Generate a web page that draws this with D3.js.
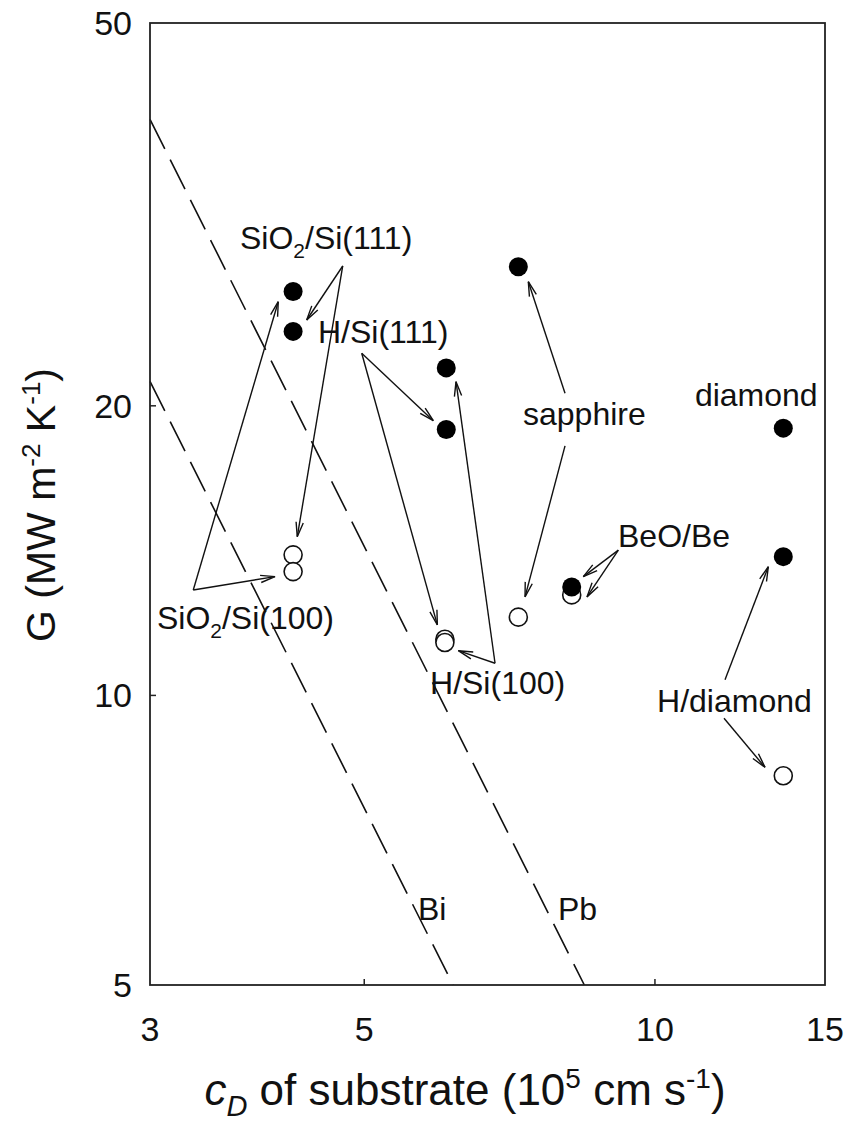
<!DOCTYPE html>
<html><head><meta charset="utf-8">
<script src="https://cdn.jsdelivr.net/npm/d3@7"></script>
<style>
html,body{margin:0;padding:0;background:#fff;}
text{font-family:"Liberation Sans",Arial,Helvetica,sans-serif;fill:#111;}
</style></head>
<body>
<svg id="chart" width="847" height="1125"></svg>
<script>
// ---------- data ----------
const xTicks = [3, 5, 10, 15];
const yTicks = [5, 10, 20, 50];
const xMinorTicks = [5, 10];
const yMinorTicks = [10, 20];

// filled circles (c_D, G)
const filledC = [4.22, 4.22, 6.08, 6.08, 7.22, 8.20, 13.58, 13.58];
const filledG = [26.3, 23.9, 21.9, 18.9, 27.9, 12.96, 18.96, 13.94];
// open circles (c_D, G)
const openC = [4.22, 4.22, 6.06, 6.06, 7.22, 8.20, 13.58];
const openG = [14.0, 13.45, 11.44, 11.35, 12.06, 12.72, 8.25];

// dashed reference lines
const biC = [3, 6.18], biG = [21.2, 5];
const pbC = [3, 8.45], pbG = [39.7, 5];

// annotation labels (start / baseline in data coords)
const labelText = ["SiO2/Si(111)", "SiO2/Si(100)", "H/Si(111)", "H/Si(100)", "sapphire", "diamond", "BeO/Be", "H/diamond", "Bi", "Pb"];
const labelC = [3.718, 3.050, 4.478, 5.849, 7.301, 11.00, 9.157, 10.05, 5.684, 7.936];
const labelG = [29.11, 11.72, 23.25, 10.03, 19.10, 19.99, 14.26, 9.61, 5.84, 5.84];

// annotation arrows (from -> to, data coords)
const arrowFromC = [4.750, 4.750, 3.326, 3.326, 4.970, 4.970, 6.830, 6.830, 8.070, 8.070, 9.164, 9.164, 11.818, 11.790];
const arrowFromG = [27.95, 27.95, 12.87, 12.87, 22.68, 22.68, 10.80, 10.80, 20.61, 18.17, 14.16, 14.16, 10.38, 9.467];
const arrowToC   = [4.359, 4.262, 4.073, 4.042, 5.895, 5.952, 6.257, 6.223, 7.394, 7.336, 8.430, 8.504, 13.104, 13.001];
const arrowToG   = [24.56, 14.62, 25.66, 13.29, 19.30, 11.84, 11.13, 21.19, 26.92, 12.66, 13.29, 12.66, 13.61, 8.419];

// ---------- layout ----------
const L = 150, R = 825, T = 23, B = 985;
const svg = d3.select("#chart");
const x = d3.scaleLog().domain([3, 15]).range([L, R]);
const y = d3.scaleLog().domain([5, 50]).range([B, T]);

const fs = 32;   // annotation labels
const tickFs = 34;

// dashed lines
const line = d3.line().x(d => x(d[0])).y(d => y(d[1]));
[[biC, biG], [pbC, pbG]].forEach(([cs, gs]) => {
  svg.append("path")
    .attr("d", line(cs.map((c, i) => [c, gs[i]])))
    .attr("fill", "none").attr("stroke", "#111").attr("stroke-width", 1.6)
    .attr("stroke-dasharray", "33,12");
});

// arrows
const ag = svg.append("g").attr("stroke", "#111").attr("stroke-width", 1.4).attr("fill", "none");
arrowFromC.forEach((c, i) => {
  const x1 = x(c), y1 = y(arrowFromG[i]), x2 = x(arrowToC[i]), y2 = y(arrowToG[i]);
  ag.append("line").attr("x1", x1).attr("y1", y1).attr("x2", x2).attr("y2", y2);
  const a = Math.atan2(y2 - y1, x2 - x1), len = 15, h = 14 * Math.PI / 180;
  const p1 = [x2 - len * Math.cos(a - h), y2 - len * Math.sin(a - h)];
  const p2 = [x2 - len * Math.cos(a + h), y2 - len * Math.sin(a + h)];
  ag.append("path").attr("d", `M${p1[0]},${p1[1]}L${x2},${y2}L${p2[0]},${p2[1]}`);
});

// points: open first, filled on top
svg.append("g").selectAll("circle").data(openC).join("circle")
  .attr("cx", d => x(d)).attr("cy", (d, i) => y(openG[i])).attr("r", 9)
  .attr("fill", "#fff").attr("stroke", "#111").attr("stroke-width", 1.6);
svg.append("g").selectAll("circle").data(filledC).join("circle")
  .attr("cx", d => x(d)).attr("cy", (d, i) => y(filledG[i])).attr("r", 9.5)
  .attr("fill", "#000");

// frame
svg.append("rect").attr("x", L).attr("y", T).attr("width", R - L).attr("height", B - T)
  .attr("fill", "none").attr("stroke", "#222").attr("stroke-width", 1.8);

// minor inward ticks
xMinorTicks.forEach(v => svg.append("line").attr("x1", x(v)).attr("x2", x(v)).attr("y1", B).attr("y2", B - 6).attr("stroke", "#222").attr("stroke-width", 1.5));
yMinorTicks.forEach(v => svg.append("line").attr("x1", L).attr("x2", L + 6).attr("y1", y(v)).attr("y2", y(v)).attr("stroke", "#222").attr("stroke-width", 1.5));

// tick labels
xTicks.forEach(v => svg.append("text").attr("x", x(v)).attr("y", 1041).attr("text-anchor", "middle").attr("font-size", tickFs).text(v));
yTicks.forEach(v => svg.append("text").attr("x", L - 18).attr("y", y(v) + 12).attr("text-anchor", "end").attr("font-size", tickFs).text(v));

// annotation labels
labelText.forEach((t, i) => {
  const tx = svg.append("text").attr("x", x(labelC[i])).attr("y", y(labelG[i])).attr("font-size", fs);
  if (t.startsWith("SiO2")) {
    tx.append("tspan").text("SiO");
    tx.append("tspan").attr("font-size", 21).attr("dy", 9).text("2");
    tx.append("tspan").attr("dy", -9).text(t.slice(4));
  } else tx.text(t);
});

// axis titles
const xt = svg.append("text").attr("x", 465).attr("y", 1105).attr("text-anchor", "middle").attr("font-size", 44);
xt.append("tspan").attr("font-style", "italic").text("c");
xt.append("tspan").attr("font-style", "italic").attr("font-size", 29).attr("dy", 11).text("D");
xt.append("tspan").attr("dy", -11).text(" of substrate (10");
xt.append("tspan").attr("font-size", 28).attr("dy", -17).text("5");
xt.append("tspan").attr("dy", 17).text(" cm s");
xt.append("tspan").attr("font-size", 28).attr("dy", -17).text("-1");
xt.append("tspan").attr("dy", 17).text(")");

const yt = svg.append("text").attr("transform", `translate(55,505) rotate(-90)`).attr("text-anchor", "middle").attr("font-size", 41);
yt.append("tspan").text("G (MW m");
yt.append("tspan").attr("font-size", 26).attr("dy", -15).text("-2");
yt.append("tspan").attr("dy", 15).text(" K");
yt.append("tspan").attr("font-size", 26).attr("dy", -15).text("-1");
yt.append("tspan").attr("dy", 15).text(")");
</script>
</body></html>
